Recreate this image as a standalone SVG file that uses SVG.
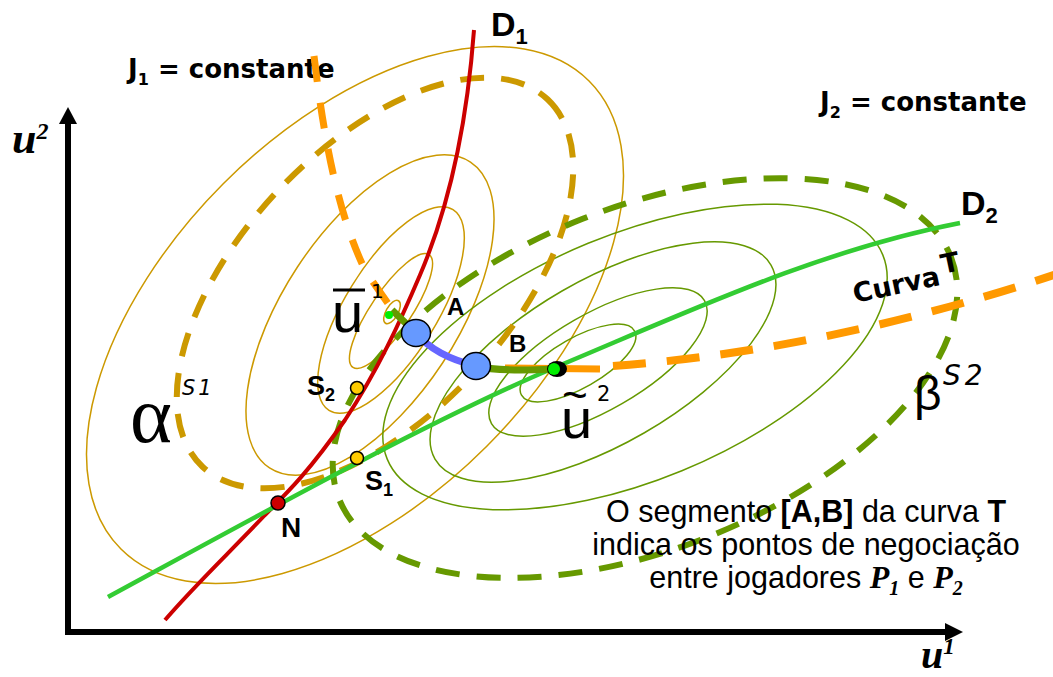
<svg xmlns="http://www.w3.org/2000/svg" width="1053" height="677" viewBox="0 0 1053 677">
<style>
.j1{fill:none;stroke:#cc9900;stroke-width:1.5}
.j2{fill:none;stroke:#669900;stroke-width:1.5}
.dgold{fill:none;stroke:#cc9900;stroke-width:6;stroke-dasharray:24 17}
.dgreen{fill:none;stroke:#669900;stroke-width:6;stroke-dasharray:24 17}
.lbl{font-family:"Liberation Sans",Arial,sans-serif;font-weight:bold;fill:#000}
.vlbl{font-family:"DejaVu Sans",Verdana,sans-serif;font-weight:bold;fill:#000}
.sym{font-family:"Liberation Sans",Arial,sans-serif;fill:#000}
.axl{font-family:"Liberation Serif","Times New Roman",serif;font-weight:bold;font-style:italic;fill:#000}
.note{font-family:"Liberation Sans",Arial,sans-serif;font-size:30.5px;fill:#000}
.pt{stroke:#000;stroke-width:1.5}
</style>
<rect width="1053" height="677" fill="#fff"/>

<g id="j1-levels">
<ellipse class="j1" cx="355" cy="315" rx="331" ry="186" transform="rotate(-45 355 315)"/>
<ellipse class="j1" cx="370" cy="315" rx="183" ry="87" transform="rotate(-56.7 370 315)"/>
<ellipse class="j1" cx="391" cy="310" rx="118" ry="46" transform="rotate(-58.3 391 310)"/>
<ellipse class="j1" cx="391" cy="311" rx="68" ry="20" transform="rotate(-56 391 311)"/>
<ellipse class="j1" cx="392" cy="312" rx="13" ry="6" transform="rotate(-60 392 312)"/>
</g>

<g id="j2-levels">
<ellipse class="j2" cx="578" cy="363" rx="65" ry="25" transform="rotate(-29.7 578 363)"/>
<ellipse class="j2" cx="598" cy="362" rx="123" ry="48" transform="rotate(-30 598 362)"/>
<ellipse class="j2" cx="603" cy="362" rx="194" ry="82" transform="rotate(-30 603 362)"/>
<ellipse class="j2" cx="635" cy="357" rx="268" ry="123" transform="rotate(-22.4 635 357)"/>
</g>

<g id="alpha-s1">
<ellipse class="dgold" cx="375" cy="283" rx="252" ry="134" transform="rotate(-46.8 375 283)"/>
</g>
<g id="beta-s2">
<ellipse class="dgreen" cx="645" cy="378" rx="329" ry="171" transform="rotate(-21.6 645 378)"/>
</g>

<g id="axes">
<line x1="68" y1="635" x2="68" y2="120" stroke="#000" stroke-width="6"/>
<polygon points="68,107 59,124 77,124" fill="#000"/>
<line x1="65" y1="632" x2="948" y2="632" stroke="#000" stroke-width="6"/>
<polygon points="963,632 945,623 945,641" fill="#000"/>
<text class="axl" x="12" y="153" font-size="44">u<tspan font-size="24" dy="-14">2</tspan></text>
<text class="axl" x="921" y="668" font-size="40">u<tspan font-size="23" dy="-14">1</tspan></text>
</g>

<text class="vlbl" x="128" y="78" font-size="26">J<tspan font-size="16" dy="7">1</tspan><tspan dy="-7"> = constante</tspan></text>

<g id="connectors">
<path id="D1" d="M474,30 C468,110 452,200 420,275 C400,322 378,370 345,420 C310,470 290,490 265,515 C230,552 195,585 165,620" fill="none" stroke="#cc0000" stroke-width="4"/>
<path id="D2" d="M108,597 C250,520 430,420 556,367 C690,311 820,250 960,223" fill="none" stroke="#33cc33" stroke-width="4.5"/>
<path d="M314,56 C324,140 338,215 366,272 L394,312" fill="none" stroke="#ff9900" stroke-width="7" stroke-dasharray="26 21"/>
<path d="M505,368 L600,369" fill="none" stroke="#ff9900" stroke-width="7"/>
<path d="M613,366 Q830,350 1060,273" fill="none" stroke="#ff9900" stroke-width="8" stroke-dasharray="33 21"/>
<path d="M392,310 L416,333" fill="none" stroke="#669900" stroke-width="7"/>
<path d="M416,333 Q435,356 476,366" fill="none" stroke="#6666ff" stroke-width="7"/>
<path d="M476,366 Q500,372 553,369" fill="none" stroke="#669900" stroke-width="7"/>
</g>

<g id="labels">
<text class="vlbl" x="820" y="111" font-size="26">J<tspan font-size="16" dy="7">2</tspan><tspan dy="-7"> = constante</tspan></text>
<text class="lbl" x="491" y="36" font-size="34">D<tspan font-size="22" dy="8">1</tspan></text>
<text class="lbl" x="961" y="215" font-size="34">D<tspan font-size="22" dy="8">2</tspan></text>
<text class="vlbl" transform="translate(855,303) rotate(-12)" font-size="27">Curva<tspan dx="4" dy="-10">T</tspan></text>
<text x="130" y="442" font-family="Liberation Serif" font-size="80">α</text>
<text x="182" y="395" font-family="DejaVu Sans" font-style="italic" font-size="21" letter-spacing="3">S1</text>
<text class="sym" x="914" y="410" font-size="48">β</text>
<text x="943" y="385" font-family="DejaVu Sans" font-style="italic" font-size="28" letter-spacing="4">S2</text>
<line x1="333" y1="290" x2="365" y2="290" stroke="#000" stroke-width="3"/>
<text class="sym" x="332" y="332" font-size="56">u</text>
<text x="371" y="298" font-family="DejaVu Sans" font-size="20">1</text>
<text class="sym" x="562" y="410" font-size="44">~</text>
<text x="597" y="401" font-family="DejaVu Sans" font-size="21">2</text>
<text class="sym" x="561" y="438" font-size="56">u</text>
</g>

<g id="point-u1"><circle cx="389" cy="315" r="4" fill="#00ee00"/></g>
<g id="point-u2">
<ellipse cx="557" cy="369" rx="10" ry="8" fill="#000"/>
<circle cx="554" cy="369" r="6" fill="#00ee00"/>
</g>
<g id="node-A"><ellipse class="pt" cx="416" cy="333" rx="14.5" ry="13.5" fill="#6699ff"/><text class="lbl" x="447" y="315" font-size="24">A</text></g>
<g id="node-B"><ellipse class="pt" cx="476" cy="366" rx="14.5" ry="13.5" fill="#6699ff"/><text class="lbl" x="509" y="352" font-size="24">B</text></g>
<g id="node-S2"><circle class="pt" cx="357" cy="388" r="6.5" fill="#ffcc00"/><text class="lbl" x="307" y="395" font-size="27">S<tspan font-size="18" dy="6">2</tspan></text></g>
<g id="node-S1"><circle class="pt" cx="357" cy="458" r="6.5" fill="#ffcc00"/><text class="lbl" x="365" y="490" font-size="27">S<tspan font-size="18" dy="6">1</tspan></text></g>
<g id="node-N"><circle class="pt" cx="278" cy="503" r="7" fill="#cc0000"/><text class="lbl" x="281" y="537" font-size="28">N</text></g>

<g id="note">
<text class="note" x="806" y="522" text-anchor="middle">O segmento <tspan font-weight="bold">[A,B]</tspan> da curva <tspan font-weight="bold">T</tspan></text>
<text class="note" x="806" y="555" text-anchor="middle">indica os pontos de negociação</text>
<text class="note" x="806" y="588" text-anchor="middle">entre jogadores <tspan font-family="Liberation Serif" font-weight="bold" font-style="italic" font-size="32">P<tspan font-size="20" dy="7">1</tspan></tspan><tspan dy="-7"> e </tspan><tspan font-family="Liberation Serif" font-weight="bold" font-style="italic" font-size="32">P<tspan font-size="20" dy="7">2</tspan></tspan></text>
</g>
</svg>
